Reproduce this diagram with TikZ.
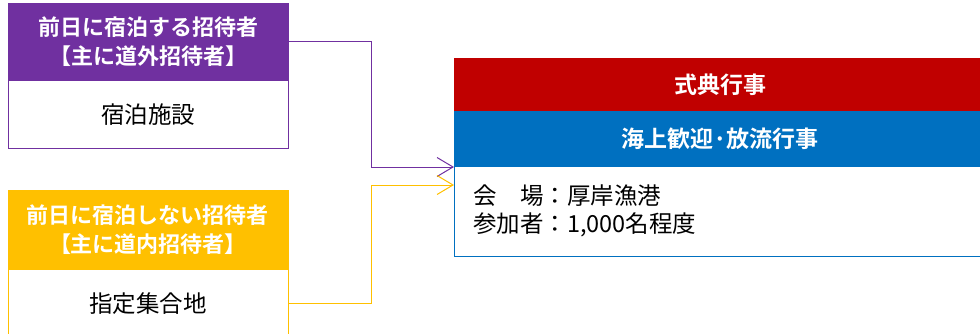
\documentclass[tikz,border=0pt]{standalone}
\usepackage{fontspec}
\setmainfont{Noto Sans CJK JP}[BoldFont={Noto Sans CJK JP Bold}]
\usetikzlibrary{positioning,arrows.meta}
\definecolor{guestpurple}{HTML}{7030A0}
\definecolor{guestyellow}{HTML}{FFC000}
\definecolor{eventred}{HTML}{C00000}
\definecolor{eventblue}{HTML}{0070C0}
\tikzset{
	headbox/.style={fill=#1, draw=#1, text=white, font=\bfseries\fontsize{22}{29.5}\selectfont, align=center, inner sep=0pt},
	bodybox/.style={fill=white, draw=#1, line width=0.9pt, text=black, font=\fontsize{23.5}{28}\selectfont, inner sep=0pt},
	feed/.style={draw=#1, line width=1pt, -{Straight Barb[length=16pt,width=19pt,line width=1pt]}}
}

\begin{document}
\begin{tikzpicture}[x=1pt, y=-1pt]
		%%%%% START %%%%%
		\useasboundingbox (0, 0) rectangle (980, 333);
		
		% guests staying the night before
		\node[headbox=guestpurple, minimum width=280pt, minimum height=77pt] (stayhead) at (148, 41.5) {前日に宿泊する招待者\\【主に道外招待者】};
		\node[bodybox=guestpurple, minimum width=280pt, minimum height=68pt, below=0pt of stayhead] (staybody) {宿泊施設};
		
		% guests not staying
		\node[headbox=guestyellow, minimum width=280pt, minimum height=79pt] (dayhead) at (148, 229.5) {前日に宿泊しない招待者\\【主に道内招待者】};
		\node[bodybox=guestyellow, minimum width=280pt, minimum height=68pt, below=0pt of dayhead] (daybody) {指定集合地};
		
		% ceremony
		\node[headbox=eventred, minimum width=532pt, minimum height=53pt, font=\bfseries\fontsize{23}{28}\selectfont] (evhead) at (720, 84.5) {式典行事};
		\node[headbox=eventblue, minimum width=532pt, minimum height=54pt, font=\bfseries\fontsize{23}{28}\selectfont, below=0pt of evhead] (evsub) {海上歓迎·放流行事};
		\node[bodybox=eventblue, minimum width=532pt, minimum height=90pt, text width=494pt, inner xsep=19pt, align=left, below=0pt of evsub] (evinfo) {会　場：厚岸漁港\\参加者：1,000名程度};
		
		\coordinate (inA) at (454, 167);
		\coordinate (inB) at (454, 185);
		
		\draw[feed=guestpurple] (stayhead.east) -| (371, 167) -- (inA);
		\draw[feed=guestyellow] (daybody.east) -| (371, 185) -- (inB);
		
		%%%%% END %%%%%
	\end{tikzpicture}
\end{document}
